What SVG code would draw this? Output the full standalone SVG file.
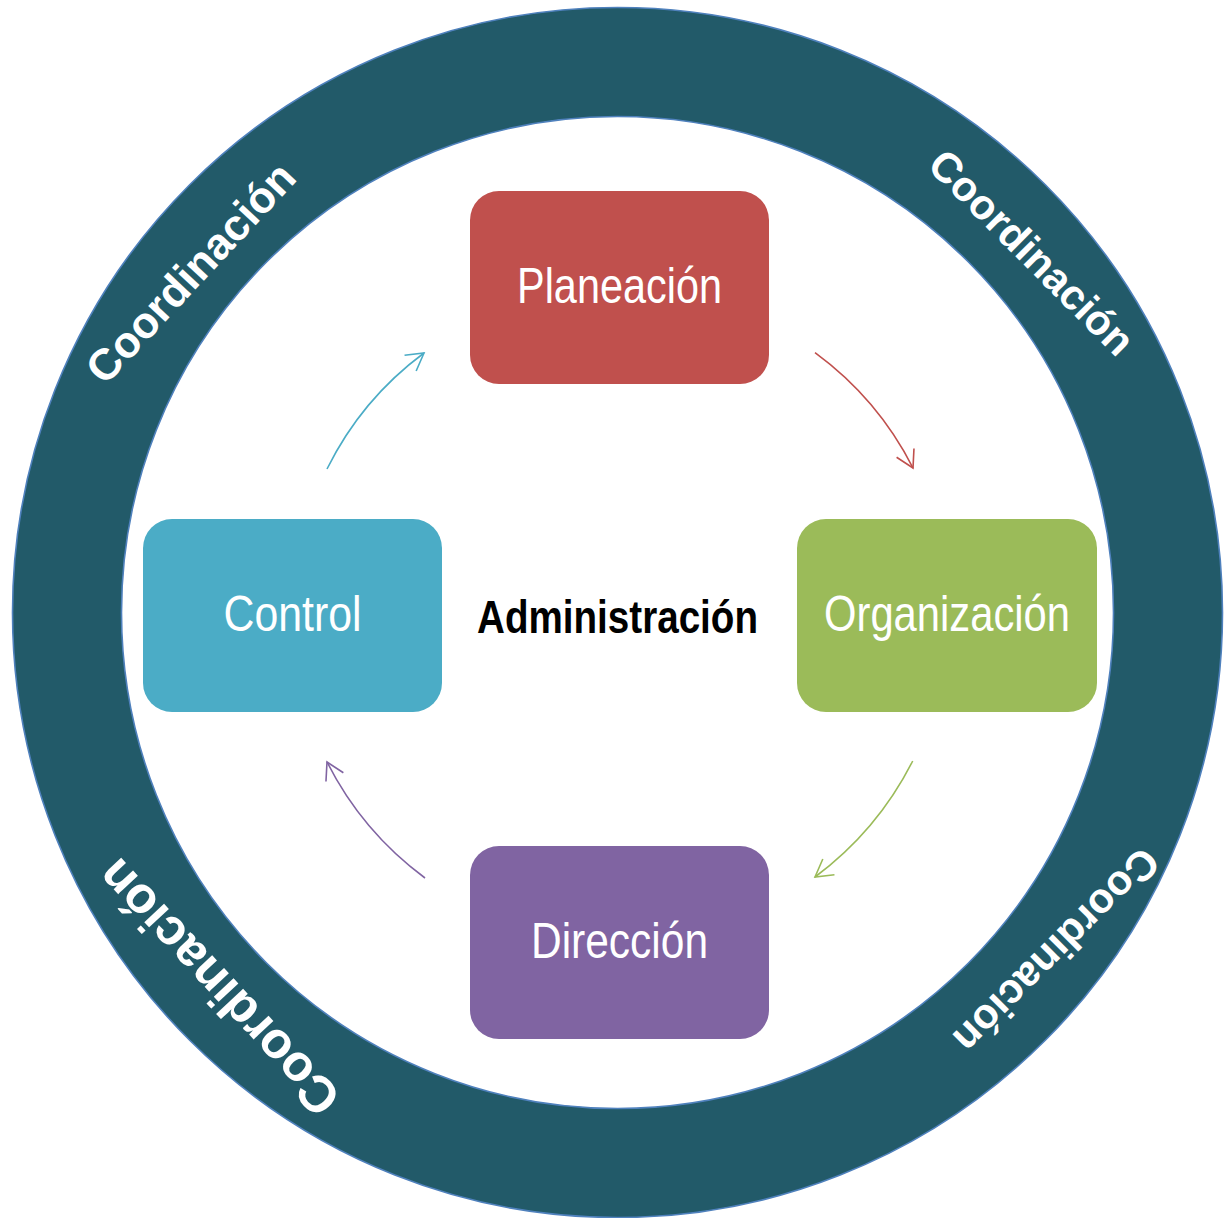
<svg xmlns="http://www.w3.org/2000/svg" width="1226" height="1218" viewBox="0 0 1226 1218">
  <style>
    .ring-edge { fill: none; stroke: #4f81bd; stroke-width: 1.6; }
    .box { stroke: none; }
    .lbl { font-family: "Liberation Sans Narrow", "Arial Narrow", "Liberation Sans", sans-serif; font-size: 50px; fill: #ffffff; text-anchor: middle; }
    .center { font-family: "Liberation Sans Narrow", "Arial Narrow", "Liberation Sans", sans-serif; font-size: 47px; font-weight: bold; fill: #000000; text-anchor: middle; }
    .coord { font-family: "Liberation Sans", Arial, sans-serif; font-weight: bold; fill: #ffffff; text-anchor: middle; }
    .arr { fill: none; stroke-width: 1.6; }
  </style>
  <defs>
    <marker id="ah-red" viewBox="-20 -12 22 24" refX="0" refY="0" markerWidth="22" markerHeight="24" markerUnits="userSpaceOnUse" orient="auto" overflow="visible">
      <path d="M-17,-9.75 L0,0 L-17,9.75" fill="none" stroke="#c0504d" stroke-width="1.6"/>
    </marker>
    <marker id="ah-green" viewBox="-20 -12 22 24" refX="0" refY="0" markerWidth="22" markerHeight="24" markerUnits="userSpaceOnUse" orient="auto" overflow="visible">
      <path d="M-17,-9.75 L0,0 L-17,9.75" fill="none" stroke="#9bbb59" stroke-width="1.6"/>
    </marker>
    <marker id="ah-purple" viewBox="-20 -12 22 24" refX="0" refY="0" markerWidth="22" markerHeight="24" markerUnits="userSpaceOnUse" orient="auto" overflow="visible">
      <path d="M-17,-9.75 L0,0 L-17,9.75" fill="none" stroke="#8064a2" stroke-width="1.6"/>
    </marker>
    <marker id="ah-cyan" viewBox="-20 -12 22 24" refX="0" refY="0" markerWidth="22" markerHeight="24" markerUnits="userSpaceOnUse" orient="auto" overflow="visible">
      <path d="M-17,-9.75 L0,0 L-17,9.75" fill="none" stroke="#4bacc6" stroke-width="1.6"/>
    </marker>
  </defs>

  <rect x="0" y="0" width="1226" height="1218" fill="#ffffff"/>

  <g id="ring">
    <circle cx="617.5" cy="612.5" r="550.5" fill="none" stroke="#225a69" stroke-width="109"/>
    <circle class="ring-edge" cx="617.5" cy="612.5" r="605"/>
    <circle class="ring-edge" cx="617.5" cy="612.5" r="496"/>
    <text class="coord" font-size="44" transform="translate(190,272) rotate(-47)" x="0" y="16">Coordinación</text>
    <text class="coord" font-size="42" transform="translate(1032,252) rotate(45)" x="0" y="15">Coordinación</text>
    <text class="coord" font-size="42" transform="translate(1057,951) rotate(135)" x="0" y="15">Coordinación</text>
    <text class="coord" font-size="51" transform="translate(218,988) rotate(-133)" x="0" y="18">Coordinación</text>
  </g>

  <g id="connectors">
    <path class="arr" stroke="#c0504d" marker-end="url(#ah-red)" d="M 815 352.7 A 327 327 0 0 1 913 468"/>
    <path class="arr" stroke="#9bbb59" marker-end="url(#ah-green)" d="M 912.7 761 A 331 331 0 0 1 815 877"/>
    <path class="arr" stroke="#8064a2" marker-end="url(#ah-purple)" d="M 425 878 A 328 328 0 0 1 327 762"/>
    <path class="arr" stroke="#4bacc6" marker-end="url(#ah-cyan)" d="M 327 469 A 323 323 0 0 1 424 353"/>
  </g>

  <g id="node-planeacion">
    <rect class="box" x="470" y="191" width="299" height="193" rx="29" fill="#c0504d"/>
    <text class="lbl" x="619.5" y="302.7" textLength="205" lengthAdjust="spacingAndGlyphs">Planeación</text>
  </g>
  <g id="node-organizacion">
    <rect class="box" x="797" y="519" width="300" height="193" rx="29" fill="#9bbb59"/>
    <text class="lbl" x="947" y="631" textLength="246" lengthAdjust="spacingAndGlyphs">Organización</text>
  </g>
  <g id="node-direccion">
    <rect class="box" x="470" y="846" width="299" height="193" rx="29" fill="#8064a2"/>
    <text class="lbl" x="619.5" y="958" textLength="177" lengthAdjust="spacingAndGlyphs">Dirección</text>
  </g>
  <g id="node-control">
    <rect class="box" x="143" y="519" width="299" height="193" rx="29" fill="#4bacc6"/>
    <text class="lbl" x="292.5" y="631" textLength="138" lengthAdjust="spacingAndGlyphs">Control</text>
  </g>
  <g id="node-administracion">
    <text class="center" x="617.5" y="632.7" textLength="281" lengthAdjust="spacingAndGlyphs">Administración</text>
  </g>
</svg>
